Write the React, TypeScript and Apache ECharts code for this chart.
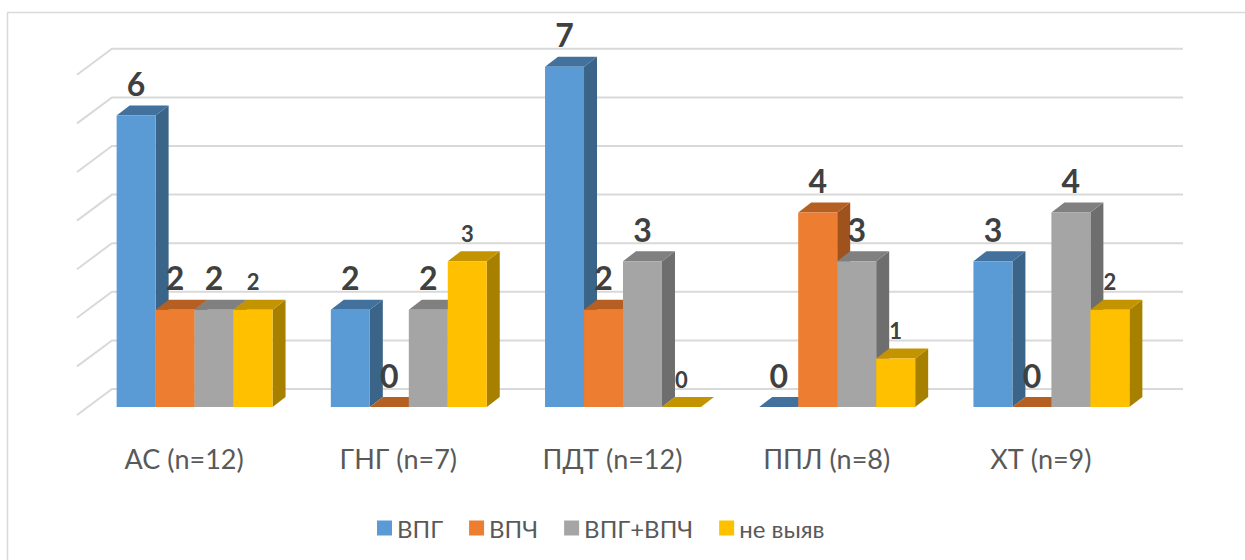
import React, { useEffect, useRef } from "react";
import * as echarts from "echarts";

const categories = ["АС (n=12)", "ГНГ (n=7)", "ПДТ (n=12)", "ППЛ (n=8)", "ХТ (n=9)"];
const seriesNames = ["ВПГ", "ВПЧ", "ВПГ+ВПЧ", "не выяв"];
const vpg = [6, 2, 7, 0, 3];
const vpch = [2, 0, 2, 4, 0];
const vpgVpch = [2, 2, 3, 3, 4];
const neVyyav = [2, 3, 0, 1, 2];
const gridValues = [0, 1, 2, 3, 4, 5, 6, 7];

const FRONT_COLORS = ["#5B9BD5", "#ED7D31", "#A5A5A5", "#FFC000"];
const TOP_COLORS = ["#41719C", "#B55F22", "#808080", "#C49300"];
const SIDE_COLORS = ["#3A6488", "#A0521C", "#6E6E6E", "#A88000"];
const LABEL_SIZES = [32, 32, 32, 22];

// perspective offsets (pixels)
const FLOOR_DX = 35;
const FLOOR_DY = -26;
const FRONT_DX = 10.5;
const FRONT_DY = -8;
const DEPTH_DX = 13;
const DEPTH_DY = -10;

function makeBarRender(idx: number) {
  return (params: any, api: any) => {
    const ci = api.value(0);
    const v = api.value(1);
    const top = api.coord([ci, v]);
    const base = api.coord([ci, 0]);
    const bw = api.size([1, 0])[0];
    const w = bw * 0.182;
    const x0 = top[0] - 2 * w + idx * w + FRONT_DX;
    const x1 = x0 + w;
    const yT = top[1] + FRONT_DY;
    const yB = base[1] + FRONT_DY;
    const fs = LABEL_SIZES[idx];
    const labelOff = idx === 3 ? 28 : 32;
    return {
      type: "group",
      children: [
        {
          type: "polygon",
          shape: {
            points: [
              [x1, yT],
              [x1 + DEPTH_DX, yT + DEPTH_DY],
              [x1 + DEPTH_DX, yB + DEPTH_DY],
              [x1, yB],
            ],
          },
          style: { fill: SIDE_COLORS[idx] },
        },
        {
          type: "polygon",
          shape: {
            points: [
              [x0, yT],
              [x1, yT],
              [x1 + DEPTH_DX, yT + DEPTH_DY],
              [x0 + DEPTH_DX, yT + DEPTH_DY],
            ],
          },
          style: { fill: TOP_COLORS[idx] },
        },
        {
          type: "rect",
          shape: { x: x0, y: yT, width: w, height: yB - yT },
          style: { fill: FRONT_COLORS[idx] },
        },
        {
          type: "text",
          x: (x0 + x1) / 2,
          y: yT - labelOff,
          z2: 100,
          style: {
            text: String(v),
            fontSize: fs,
            fontWeight: "bold",
            fontFamily: "Lato, 'Liberation Sans', sans-serif",
            fill: "#404040",
            align: "center",
            verticalAlign: "middle",
          },
        },
      ],
    };
  };
}

function gridRender(params: any, api: any) {
  const v = api.value(1);
  const p = api.coord([0, v]);
  const cs = params.coordSys;
  const y = p[1];
  return {
    type: "polyline",
    shape: {
      points: [
        [cs.x, y],
        [cs.x + FLOOR_DX, y + FLOOR_DY],
        [cs.x + cs.width + FLOOR_DX, y + FLOOR_DY],
      ],
    },
    style: { stroke: "#D9D9D9", lineWidth: 2, fill: "none" },
  };
}

export default function App() {
  const ref = useRef<HTMLDivElement>(null);
  useEffect(() => {
    if (!ref.current) return;
    const chart = echarts.init(ref.current, undefined, { renderer: "svg" });
    const allValues = [vpg, vpch, vpgVpch, neVyyav];
    const option: any = {
      animation: false,
      backgroundColor: "#FFFFFF",
      color: FRONT_COLORS,
      grid: { left: 77, right: 97, top: 26.2, bottom: 145, containLabel: false },
      xAxis: {
        type: "category",
        data: categories,
        boundaryGap: true,
        axisLine: { show: false },
        axisTick: { show: false },
        splitLine: { show: false },
        axisLabel: {
          margin: 30,
          fontSize: 27,
          color: "#595959",
          fontFamily: "Lato, 'Liberation Sans', sans-serif",
        },
      },
      yAxis: {
        type: "value",
        min: 0,
        max: 8,
        interval: 1,
        show: false,
        splitLine: { show: false },
      },
      legend: {
        data: seriesNames,
        left: 372,
        top: 511,
        icon: "rect",
        itemWidth: 15,
        itemHeight: 15,
        itemGap: 26,
        textStyle: {
          fontSize: 24,
          color: "#595959",
          fontFamily: "Lato, 'Liberation Sans', sans-serif",
        },
      },
      graphic: [
        {
          type: "rect",
          shape: { x: 7.5, y: 12.5, width: 1300, height: 600 },
          style: { fill: "none", stroke: "#D9D9D9", lineWidth: 1.5 },
          silent: true,
        },
      ],
      series: [
        {
          type: "custom",
          name: "grid",
          z: 1,
          silent: true,
          renderItem: gridRender,
          data: gridValues.map((v) => [0, v]),
          encode: { x: 0, y: 1 },
        },
        ...seriesNames.map((name, idx) => ({
          type: "custom",
          name,
          z: 2,
          itemStyle: { color: FRONT_COLORS[idx] },
          renderItem: makeBarRender(idx),
          data: allValues[idx].map((v, i) => [i, v]),
          encode: { x: 0, y: 1 },
        })),
      ],
    };
    chart.setOption(option);
    return () => chart.dispose();
  }, []);
  return (
    <div
      ref={ref}
      style={{ position: "absolute", left: 0, top: 0, width: 1245, height: 560 }}
    />
  );
}
